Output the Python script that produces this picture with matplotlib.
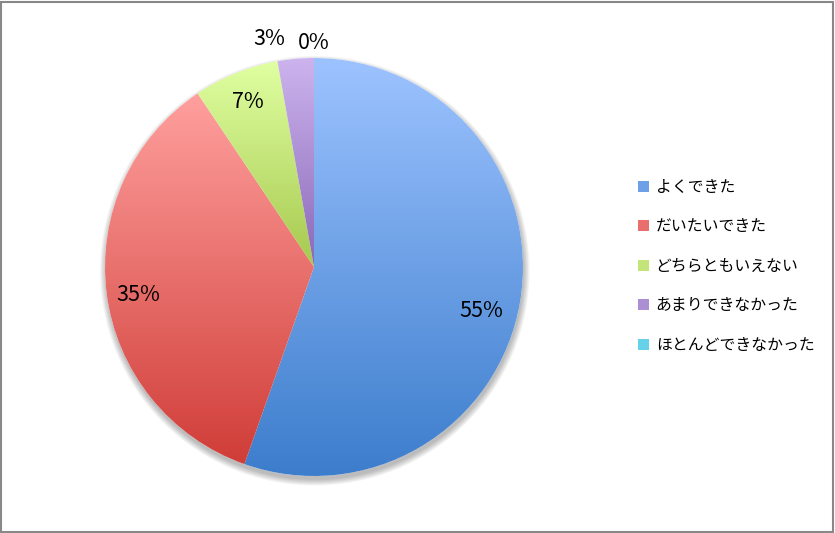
import matplotlib.pyplot as plt
import numpy as np
from matplotlib.colors import to_rgb
from matplotlib.patches import Circle, Patch, Rectangle

plt.rcParams["font.family"] = ["Noto Sans CJK JP", "DejaVu Sans"]

labels = ["よくできた", "だいたいできた", "どちらともいえない", "あまりできなかった", "ほとんどできなかった"]
values = [55.4, 35.2, 6.6, 2.8, 0.0]

top_colors = ["#9dc3ff", "#ffa09e", "#e0ffa2", "#cdb4ee", "#9aebfa"]
bottom_colors = ["#3c7dcc", "#d03d38", "#a6c94e", "#8a68b8", "#30b8d8"]


def gradient(c1, c2, n=256):
    t = np.linspace(0, 1, n)[:, None]
    a = np.array(to_rgb(c1))
    b = np.array(to_rgb(c2))
    return (a * (1 - t) + b * t)[:, None, :]


def plot():
    fig = plt.figure(figsize=(8.35, 5.33), dpi=100)
    R = 209
    cx, cy = 314, 533 - 267
    half = 1.3 * R
    ax = fig.add_axes([(cx - half) / 835, (cy - half) / 533, 2 * half / 835, 2 * half / 533])

    # soft shadow under the pie
    for k in range(8):
        ax.add_patch(Circle((0.004, -0.018), 1.0 + k * 0.004, color="black",
                            alpha=0.035, lw=0, zorder=0))
    ax.add_patch(Circle((0, 0), 1.0, color="white", lw=0, zorder=0.5))

    wedges, texts, autotexts = ax.pie(
        values, startangle=90, counterclock=False, radius=1.0,
        autopct="%.0f%%", pctdistance=0.85,
        wedgeprops=dict(linewidth=0),
        textprops=dict(fontsize=15.5, color="black"),
    )

    for w, v, c1, c2 in zip(wedges, values, top_colors, bottom_colors):
        w.set_facecolor("none")
        if v <= 0:
            continue
        ext = w.get_path().get_extents()
        im = ax.imshow(gradient(c1, c2), extent=[ext.x0, ext.x1, ext.y0, ext.y1],
                       origin="upper", aspect="auto", zorder=1)
        im.set_clip_path(w)

    # label placement tweaks (Excel "best fit"): angle shift in degrees, radius
    shifts = [-5, 2, 0, 6, 0]
    radii = [0.83, 0.85, 0.85, 1.11, 1.07]
    for w, t, s, r in zip(wedges, autotexts, shifts, radii):
        t.set_zorder(5)
        mid = np.deg2rad((w.theta1 + w.theta2) / 2 + s)
        t.set_position((r * np.cos(mid), r * np.sin(mid)))

    ax.set_xlim(-1.3, 1.3)
    ax.set_ylim(-1.3, 1.3)
    ax.set_aspect("equal")
    ax.axis("off")

    mids = [gradient(a, b, 3)[1, 0] for a, b in zip(top_colors, bottom_colors)]
    handles = [Patch(facecolor=m, edgecolor="none") for m in mids]
    fig.legend(handles, labels, loc="upper left", bbox_to_anchor=(638 / 835, 1 - 179 / 533),
               frameon=False, fontsize=11.4, handlelength=0.7, handleheight=0.7,
               handletextpad=0.42, labelspacing=1.42, borderpad=0, borderaxespad=0)

    fig.patches.append(Rectangle((0.001, 0.002), 0.997, 0.995, transform=fig.transFigure,
                                 fill=False, edgecolor="#888888", linewidth=1.5))
    return fig


def main():
    fig = plot()
    fig.savefig("out.png", dpi=100)


if __name__ == "__main__":
    main()
